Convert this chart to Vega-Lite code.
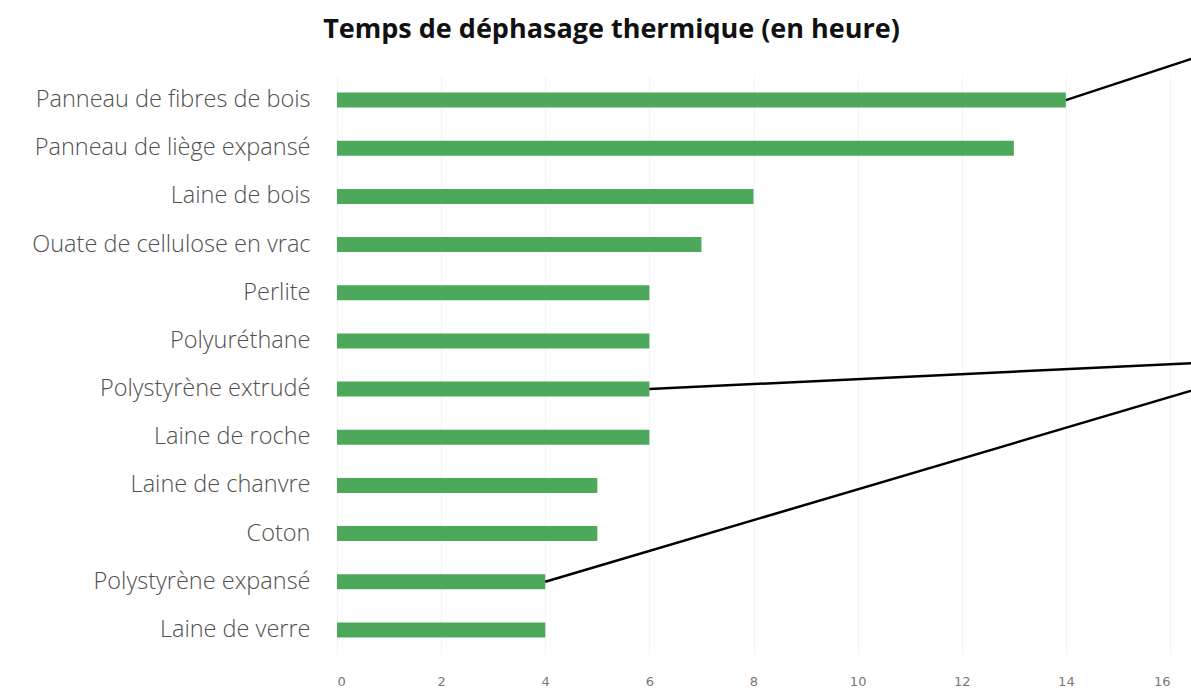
{
  "$schema": "https://vega.github.io/schema/vega-lite/v6.json",
  "width": 833,
  "height": 578,
  "autosize": {"type": "none"},
  "padding": {"left": 337, "top": 76, "right": 21, "bottom": 36},
  "background": "white",
  "config": {"view": {"stroke": null}},
  "title": {
    "text": "Temps de déphasage thermique (en heure)",
    "font": "Open Sans",
    "fontSize": 27,
    "fontWeight": "bold",
    "color": "#111111",
    "anchor": "middle",
    "frame": "group",
    "dx": -142,
    "offset": 9
  },
  "datasets": {
    "bars": [
      {"materiau": "Panneau de fibres de bois", "heures": 14},
      {"materiau": "Panneau de liège expansé", "heures": 13},
      {"materiau": "Laine de bois", "heures": 8},
      {"materiau": "Ouate de cellulose en vrac", "heures": 7},
      {"materiau": "Perlite", "heures": 6},
      {"materiau": "Polyuréthane", "heures": 6},
      {"materiau": "Polystyrène extrudé", "heures": 6},
      {"materiau": "Laine de roche", "heures": 6},
      {"materiau": "Laine de chanvre", "heures": 5},
      {"materiau": "Coton", "heures": 5},
      {"materiau": "Polystyrène expansé", "heures": 4},
      {"materiau": "Laine de verre", "heures": 4}
    ],
    "lines": [
      {"ligne": "a", "x": 14, "y": 0.5},
      {"ligne": "a", "x": 16.45, "y": -0.37},
      {"ligne": "b", "x": 6, "y": 6.5},
      {"ligne": "b", "x": 16.45, "y": 5.96},
      {"ligne": "c", "x": 4, "y": 10.5},
      {"ligne": "c", "x": 16.45, "y": 6.52}
    ]
  },
  "layer": [
    {
      "data": {"name": "bars"},
      "mark": {"type": "bar", "color": "#4CA85A"},
      "encoding": {
        "y": {
          "field": "materiau",
          "type": "nominal",
          "sort": null,
          "scale": {"paddingInner": 0.69, "paddingOuter": 0.345},
          "axis": {
            "title": null,
            "domain": false,
            "ticks": false,
            "labelFont": "Open Sans",
            "labelFontSize": 23.5,
            "labelFontWeight": 300,
            "labelColor": "#505050",
            "labelPadding": 27,
            "labelLimit": 400
          }
        },
        "x": {
          "field": "heures",
          "type": "quantitative",
          "scale": {"domain": [0, 16], "nice": false},
          "axis": {
            "title": null,
            "values": [0, 2, 4, 6, 8, 10, 12, 14, 16],
            "domain": false,
            "ticks": false,
            "grid": true,
            "gridColor": "#f4f4f4",
            "labelFont": "DejaVu Sans",
            "labelFontSize": 13,
            "labelColor": "#777777",
            "labelPadding": 21
          }
        }
      }
    },
    {
      "data": {"name": "lines"},
      "mark": {"type": "line", "color": "black", "strokeWidth": 2.5},
      "encoding": {
        "x": {"field": "x", "type": "quantitative", "scale": {"domain": [0, 16], "nice": false}},
        "y": {"field": "y", "type": "quantitative", "scale": {"domain": [0, 12], "nice": false, "zero": false, "reverse": true}, "axis": null},
        "detail": {"field": "ligne"}
      }
    }
  ],
  "resolve": {"scale": {"y": "independent"}}
}
